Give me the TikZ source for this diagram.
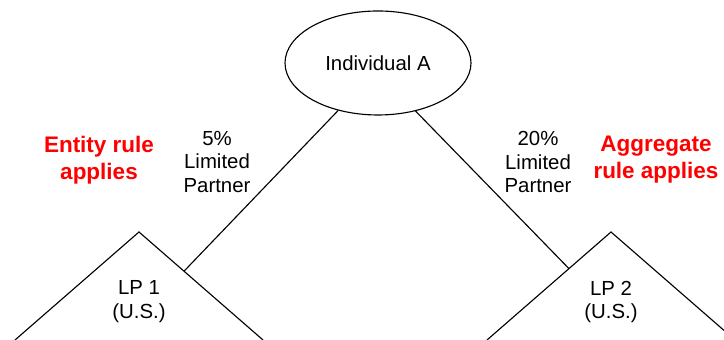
\documentclass[tikz,border=0pt]{standalone}
\usepackage{fontspec}
\setmainfont{Liberation Sans}
\usetikzlibrary{calc,shapes.geometric}
\definecolor{ink}{HTML}{000000}
\definecolor{rulered}{HTML}{FF0000}

\begin{document}
\begin{tikzpicture}[
  owner/.style={ellipse,draw=ink,line width=0.8pt,minimum width=4.65cm,
                minimum height=2.6cm,inner sep=0pt,
                font=\fontsize{14.5}{17}\selectfont},
  lbl/.style={align=center,text=ink,font=\fontsize{14.5}{17}\selectfont},
  rulenote/.style={align=center,text=rulered,
                   font=\fontsize{16}{19.2}\selectfont\bfseries},
  part/.style={ink,line width=0.8pt},
  link/.style={ink,line width=0.8pt}
]
\useasboundingbox (0,0) rectangle (18.1,8.5);
\clip (0,0) rectangle (18.1,8.5);

% partnerships (cut off at the bottom)
\coordinate (t1) at (3.475,2.7);
\coordinate (t1l) at (0.375,0);
\coordinate (t1r) at (6.575,0);
\coordinate (t2) at (15.275,2.7);
\coordinate (t2l) at (12.175,0);
\coordinate (t2r) at (18.375,0);
\draw[part] (t1l)--(t1)--(t1r) (t2l)--(t2)--(t2r);
\node[lbl] (lp1) at (3.475,0.95) {LP 1\\(U.S.)};
\node[lbl] (lp2) at (15.275,0.95) {LP 2\\(U.S.)};

\node[owner] (ind) at (9.45,6.925) {Individual A};
\coordinate (c1) at ($(t1)!0.363!(t1r)$);
\coordinate (c2) at ($(t2)!0.339!(t2l)$);
\draw[link] (ind.230)--(c1) (ind.308)--(c2);

\node[lbl] (own1) at (5.425,4.45) {5\%\\Limited\\Partner};
\node[lbl] (own2) at (13.45,4.45) {20\%\\Limited\\Partner};
\node[rulenote] (r1) at (2.475,4.5) {Entity rule\\applies};
\node[rulenote] (r2) at (16.4,4.5) {Aggregate\\rule applies};
\end{tikzpicture}
\end{document}
